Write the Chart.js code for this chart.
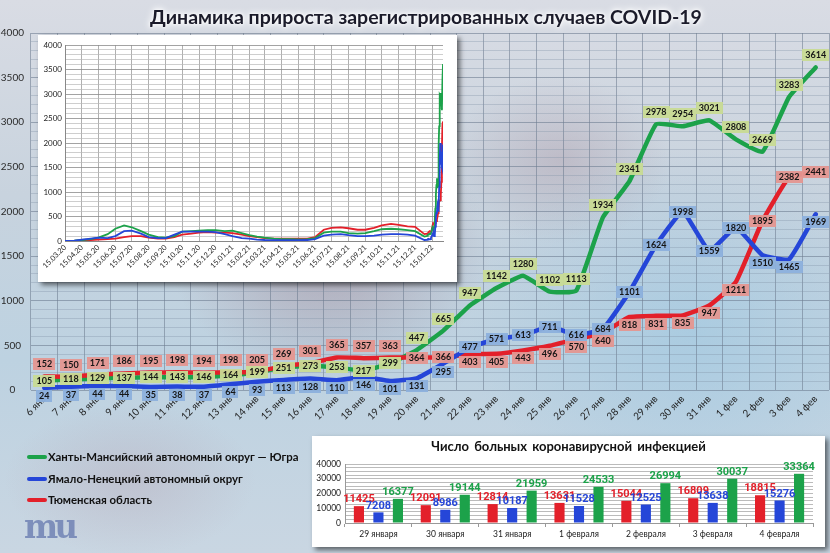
<!DOCTYPE html>
<html><head><meta charset="utf-8">
<script src="https://cdn.jsdelivr.net/npm/chart.js@4.4.1/dist/chart.umd.min.js"></script>
<style>
html,body{margin:0;padding:0;}
body{width:830px;height:553px;overflow:hidden;position:relative;font-family:Lato,'Open Sans',sans-serif;
background:
 radial-gradient(ellipse 230px 190px at 330px 250px, rgba(150,115,130,0.45), rgba(150,115,130,0) 70%),
 radial-gradient(ellipse 160px 120px at 560px 160px, rgba(160,130,145,0.30), rgba(160,130,145,0) 70%),
 radial-gradient(ellipse 180px 110px at 130px 480px, rgba(175,145,160,0.28), rgba(175,145,160,0) 70%),
 radial-gradient(ellipse 320px 260px at 690px 330px, rgba(160,200,225,0.65), rgba(160,200,225,0) 70%),
 linear-gradient(180deg, #d9dce4 0%, #c8d3de 35%, #bdd2e1 65%, #c9d6e2 100%);}
canvas{position:absolute;}
#title{position:absolute;left:11px;width:830px;top:5px;text-align:center;font:bold 19.5px Lato,sans-serif;color:#1b1b2a;text-shadow:0 0 3px #fff,0 0 6px #fff,0 0 8px #fff;white-space:nowrap;}
#insetBox{position:absolute;left:38px;top:35px;width:419px;height:247px;background:#fff;box-shadow:3px 3px 5px rgba(0,0,0,.55);}
#barBox{position:absolute;left:312px;top:436px;width:513px;height:111px;background:#fff;box-shadow:3px 3px 5px rgba(0,0,0,.55);}
#barTitle{position:absolute;left:0;width:513px;top:2px;text-align:center;font:bold 13px Lato,sans-serif;color:#111;word-spacing:2px;}
.leg{position:absolute;left:27px;font:bold 11.4px Lato,sans-serif;color:#111;white-space:nowrap;line-height:16px;}
.leg i{display:inline-block;width:20px;height:4px;vertical-align:middle;margin-right:1px;position:relative;top:-1px;border-radius:2px;}
#logo{position:absolute;left:24px;top:506px;font:bold 34px 'DejaVu Serif',serif;color:#7083b4;letter-spacing:-4px;opacity:.85;transform:scaleX(0.95);transform-origin:left;}
</style></head>
<body>
<canvas id="main" width="830" height="553" style="left:0;top:0"></canvas>
<div id="title">Динамика прироста зарегистрированных случаев COVID-19</div>
<div id="insetBox"><canvas id="inset" width="419" height="247" style="left:0;top:0"></canvas></div>
<div class="leg" style="top:449px"><i style="background:#1ca24a"></i>Ханты-Мансийский автономный округ — Югра</div>
<div class="leg" style="top:471px"><i style="background:#2546d8"></i>Ямало-Ненецкий автономный округ</div>
<div class="leg" style="top:492px"><i style="background:#e3202a"></i>Тюменская область</div>
<div id="logo">mu</div>
<div id="barBox"><div id="barTitle">Число больных коронавирусной инфекцией</div><canvas id="bars" width="513" height="111" style="left:0;top:0"></canvas></div>
<script>
// ---------- main chart data ----------
const days = ['6 янв','7 янв','8 янв','9 янв','10 янв','11 янв','12 янв','13 янв','14 янв','15 янв','16 янв','17 янв','18 янв','19 янв','20 янв','21 янв','22 янв','23 янв','24 янв','25 янв','26 янв','27 янв','28 янв','29 янв','30 янв','31 янв','1 фев','2 фев','3 фев','4 фев'];
const hmao   = [105,118,129,137,144,143,146,164,199,251,273,253,217,299,447,665,947,1142,1280,1102,1113,1934,2341,2978,2954,3021,2808,2669,3283,3614];
const yanao  = [24,37,44,44,35,38,37,64,93,113,128,110,146,101,131,295,477,571,613,711,616,684,1101,1624,1998,1559,1820,1510,1465,1969];
const tyumen = [152,150,171,186,195,198,194,198,205,269,301,365,357,363,364,366,403,405,443,496,570,640,818,831,835,947,1211,1895,2382,2441];

// ---------- inset (history) data ----------
const insetDates = ['15.03.20','01.04.20','15.04.20','01.05.20','15.05.20','01.06.20','15.06.20','01.07.20','15.07.20','01.08.20','15.08.20','01.09.20','15.09.20','01.10.20','15.10.20','01.11.20','15.11.20','01.12.20','15.12.20','01.01.21','15.01.21','01.02.21','15.02.21','01.03.21','15.03.21','01.04.21','15.04.21','01.05.21','15.05.21','01.06.21','15.06.21','01.07.21','15.07.21','01.08.21','15.08.21','01.09.21','15.09.21','01.10.21','15.10.21','01.11.21','15.11.21','01.12.21','15.12.21','01.01.22'];
const insetHmao   = [0,5,20,40,70,140,250,320,280,200,130,80,70,100,190,200,210,220,220,200,210,160,120,90,70,50,40,40,35,40,60,170,190,190,160,150,160,200,240,250,240,220,200,90];
const insetYanao  = [0,5,30,50,70,60,100,200,210,150,80,60,60,130,190,190,190,190,180,140,100,60,50,30,20,15,15,15,15,20,40,110,130,140,120,100,100,110,130,140,140,130,110,20];
const insetTyumen = [0,3,10,20,30,40,50,80,100,100,70,50,50,80,130,150,170,180,170,170,160,130,100,80,60,50,50,50,50,50,80,230,270,280,260,230,230,270,320,350,330,300,290,140];
const insetTailDates = ['06.01.22','04.02.22'];
const insetTicks = ['15.03.20','15.04.20','15.05.20','15.06.20','15.07.20','15.08.20','15.09.20','15.10.20','15.11.20','15.12.20','15.01.21','15.02.21','15.03.21','15.04.21','15.05.21','15.06.21','15.07.21','15.08.21','15.09.21','15.10.21','15.11.21','15.12.21','15.01.22'];

// ---------- bar chart data ----------
const barDates = ['29 января','30 января','31 января','1 февраля','2 февраля','3 февраля','4 февраля'];
const barTyumen = [11425,12091,12814,13631,15044,16809,18815];
const barYanao  = [7208,8986,10187,11528,12525,13638,15276];
const barHmao   = [16377,19144,21959,24533,26994,30037,33364];

const GREEN='#1ca24a', BLUE='#2546d8', RED='#e3202a';

// ---------- main chart ----------
const boxLabels = {
  id:'boxLabels',
  afterDatasetsDraw(chart){
    const ctx = chart.ctx, sets = chart.data.datasets, n = chart.data.labels.length;
    ctx.save();
    ctx.font = 'bold 9px Lato, sans-serif';
    ctx.textAlign = 'center'; ctx.textBaseline = 'middle';
    for (let i=0;i<n;i++){
      const vals = sets.map(d=>d.data[i]);
      const hi = Math.max(...vals), lo = Math.min(...vals);
      sets.forEach((ds,di)=>{
        const el = chart.getDatasetMeta(di).data[i];
        const v = ds.data[i];
        let dy = 0;
        if (v===hi) dy = -12; else if (v===lo) dy = 8;
        const t = String(v);
        const w = ctx.measureText(t).width + 6, h = 12;
        const x = el.x, y = el.y + dy;
        ctx.fillStyle = ds.labelBg;
        ctx.fillRect(Math.round(x-w/2), Math.round(y-h/2), Math.round(w), h);
        ctx.fillStyle = '#161616';
        ctx.fillText(t, x, Math.round(y)+0.5);
      });
    }
    ctx.restore();
  }
};

new Chart(document.getElementById('main'), {
  type:'line',
  data:{ labels:days, datasets:[
    {data:yanao, borderColor:BLUE, labelBg:'rgba(140,176,220,0.95)'},
    {data:tyumen, borderColor:RED, labelBg:'rgba(228,150,144,0.95)'},
    {data:hmao, borderColor:GREEN, labelBg:'rgba(200,219,148,0.95)'}
  ]},
  options:{
    responsive:false, animation:false, devicePixelRatio:1,
    layout:{padding:{left:0,right:1,top:33,bottom:123}},
    elements:{line:{borderWidth:4.5,tension:0.12,borderCapStyle:'round',borderJoinStyle:'round'},point:{radius:0}},
    plugins:{legend:{display:false},tooltip:{enabled:false}},
    scales:{
      x:{offset:true,
         grid:{offset:true,color:'rgba(105,120,140,0.55)',drawTicks:false},
         border:{display:false},
         ticks:{autoSkip:false,minRotation:45,maxRotation:45,padding:3,color:'#1e1e1e',font:{family:'Lato',size:10}},
         afterFit(s){s.height=40;}},
      y:{min:0,max:4000,
         ticks:{stepSize:100,autoSkip:false,maxTicksLimit:100,crossAlign:'center',padding:7,color:'#2a2a2a',font:{family:'Lato',size:10},
                callback:v=>v%500===0?String(v):''},
         grid:{drawTicks:false,color:c=>c.tick&&c.tick.value%500===0?'rgba(110,125,145,0.6)':'rgba(130,145,165,0.35)'},
         border:{display:false},
         afterFit(s){s.width=31;}}
    }
  },
  plugins:[boxLabels]
});

// ---------- inset chart ----------
const T0 = Date.UTC(2020,2,15);
function dayOf(s){const [d,m,y]=s.split('.').map(Number);return (Date.UTC(2000+y,m-1,d)-T0)/86400000;}
const tailStart = dayOf(insetTailDates[0]);
function series(hist, tail){
  const pts = insetDates.map((d,i)=>({x:dayOf(d),y:hist[i]}));
  tail.forEach((v,i)=>pts.push({x:tailStart+i,y:v}));
  return pts;
}
const tickDays = insetTicks.map(dayOf);
new Chart(document.getElementById('inset'), {
  type:'line',
  data:{datasets:[
    {data:series(insetYanao,yanao),borderColor:BLUE},
    {data:series(insetHmao,hmao),borderColor:GREEN},
    {data:series(insetTyumen,tyumen),borderColor:RED}
  ]},
  options:{
    responsive:false, animation:false, devicePixelRatio:1, parsing:false,
    layout:{padding:{left:0,right:14,top:10,bottom:3}},
    elements:{line:{borderWidth:1.8,tension:0},point:{radius:0}},
    plugins:{legend:{display:false},tooltip:{enabled:false}},
    scales:{
      x:{type:'linear',min:0,max:dayOf(insetTailDates[1]),
         afterBuildTicks(s){s.ticks=tickDays.map(v=>({value:v}));},
         ticks:{autoSkip:false,minRotation:45,maxRotation:45,padding:2,color:'#222',font:{family:'Lato',size:7.5},
                callback:(v)=>{const k=tickDays.indexOf(v);return k>=0?insetTicks[k]:'';}},
         grid:{color:'rgba(150,150,150,0.75)',drawTicks:false},
         border:{color:'#888'},
         afterFit(s){s.height=38;}},
      y:{min:0,max:4000,
         ticks:{stepSize:100,autoSkip:false,maxTicksLimit:100,padding:3,color:'#222',font:{family:'Lato',size:8},
                callback:v=>v%500===0?String(v):''},
         grid:{drawTicks:false,color:c=>c.tick&&c.tick.value%500===0?'rgba(140,140,140,0.8)':'rgba(185,185,185,0.7)'},
         border:{color:'#888'},
         afterFit(s){s.width=27;}}
    }
  }
});

// ---------- bar chart ----------
const barLabels = {
  id:'barLabels',
  afterDatasetsDraw(chart){
    const ctx=chart.ctx;
    ctx.save();
    ctx.font='bold 11px Roboto, sans-serif';
    ctx.textAlign='center'; ctx.textBaseline='bottom';
    chart.data.datasets.forEach((ds,di)=>{
      chart.getDatasetMeta(di).data.forEach((el,i)=>{
        ctx.fillStyle=ds.backgroundColor;
        ctx.fillText(String(ds.data[i]), el.x, el.y-1);
      });
    });
    ctx.restore();
  }
};
new Chart(document.getElementById('bars'), {
  type:'bar',
  data:{labels:barDates, datasets:[
    {data:barTyumen, backgroundColor:RED},
    {data:barYanao, backgroundColor:BLUE},
    {data:barHmao, backgroundColor:GREEN}
  ]},
  options:{
    responsive:false, animation:false, devicePixelRatio:1,
    layout:{padding:{left:0,right:12,top:28,bottom:4}},
    datasets:{bar:{categoryPercentage:0.875,barPercentage:0.52}},
    plugins:{legend:{display:false},tooltip:{enabled:false}},
    scales:{
      x:{grid:{offset:true,drawOnChartArea:false,drawTicks:true,tickLength:4,color:'#999'},
         border:{color:'#999'},
         ticks:{padding:2,color:'#222',font:{family:'Lato',size:8.5}},
         afterFit(s){s.height=20;}},
      y:{min:0,max:40000,
         ticks:{stepSize:2500,autoSkip:false,padding:4,color:'#222',font:{family:'Lato',size:8.5},
                callback:v=>v%10000===0?String(v):''},
         grid:{drawTicks:false,color:'rgba(170,170,170,0.8)'},
         border:{color:'#999'},
         afterFit(s){s.width=33;}}
    }
  },
  plugins:[barLabels]
});
</script>
</body></html>
